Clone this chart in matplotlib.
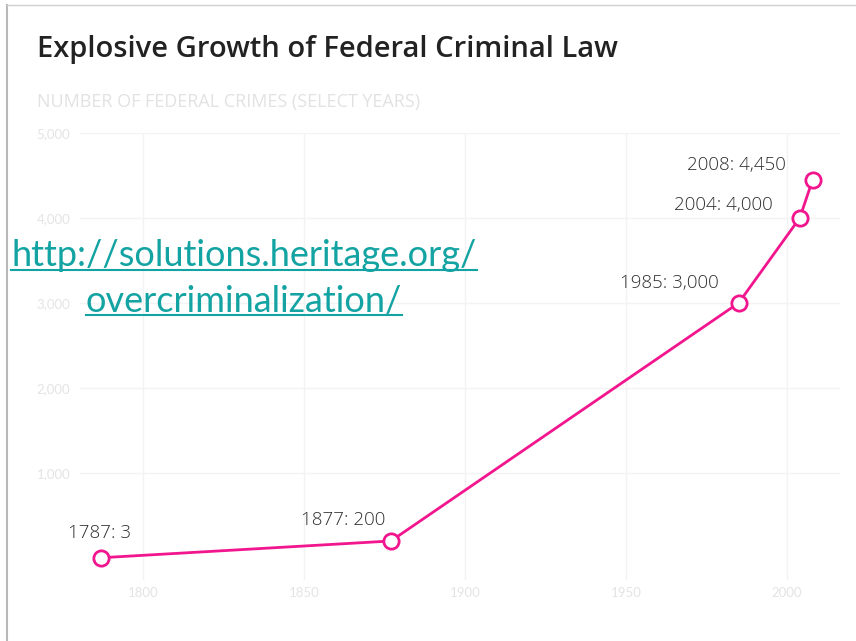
import matplotlib
matplotlib.use("Agg")
import matplotlib.pyplot as plt
from matplotlib.lines import Line2D

# Nombre de crimes fédéraux (années choisies)
annees = [1787, 1877, 1985, 2004, 2008]
crimes = [3, 200, 3000, 4000, 4450]
ticks_x = [1800, 1850, 1900, 1950, 2000]
ticks_y = [1000, 2000, 3000, 4000, 5000]
# décalage des étiquettes (en pixels) par rapport à chaque point
decalages = [(-2, 25), (-48, 21), (-69, 20), (-76, 13), (-76, 15)]

titre = "Explosive Growth of Federal Criminal Law"
sous_titre = "NUMBER OF FEDERAL CRIMES (SELECT YEARS)"
lien = ["http://solutions.heritage.org/", "overcriminalization/"]

W, H = 856, 641
fig = plt.figure(figsize=(W / 100, H / 100), dpi=100)
fig.patch.set_facecolor("white")

# zone du graphe en pixels : x 80..840, y 133..580
ax = fig.add_axes([80 / W, 1 - 580 / H, 760 / W, (580 - 133) / H])
ax.set_xlim(1780.4, 2016.5)
ax.set_ylim(-259, 5000)

rose = "#f2168e"
ax.plot(annees, crimes, color=rose, linewidth=2, marker="o", markersize=11,
        markerfacecolor="white", markeredgecolor=rose, markeredgewidth=2, zorder=3)

for a, c, (dx, dy) in zip(annees, crimes, decalages):
    ax.annotate(f"{a}: {c:,}", (a, c), xytext=(dx * 0.72, dy * 0.72),
                textcoords="offset points", ha="center", va="center",
                fontsize=13.5, color="#2e2e2e", family="Open Sans", fontweight="light")

ax.set_xticks(ticks_x)
ax.set_yticks(ticks_y)
ax.set_yticklabels([f"{v:,}" for v in ticks_y])
ax.tick_params(length=0, colors="#e4e4e4", labelsize=9.5, pad=7)
ax.tick_params(axis="x", pad=5)
for lab in ax.get_xticklabels() + ax.get_yticklabels():
    lab.set_family("Lato")
ax.grid(True, color="#f3f3f3", linewidth=1)
for s in ax.spines.values():
    s.set_visible(False)

fig.text(37 / W, 1 - 50 / H, titre, fontsize=21, fontweight="semibold",
         family="Open Sans", color="#222222", va="center", ha="left")
fig.text(37 / W, 1 - 102 / H, sous_titre, fontsize=13, family="Open Sans",
         color="#e2e2e2", va="center", ha="left")

# bordure de la capture
fig.add_artist(Line2D([7 / W, 7 / W], [0, 1 - 5 / H], color="#b8b8b8", linewidth=1.5))
fig.add_artist(Line2D([7 / W, 1], [1 - 5 / H, 1 - 5 / H], color="#d0d0d0", linewidth=1))

# lien souligné par-dessus le graphe
teal = "#14a3a3"
textes = []
for i, ligne in enumerate(lien):
    t = fig.text(244 / W, 1 - (256 + 45 * i) / H, ligne, fontsize=26, family="Lato",
                 color=teal, ha="center", va="center")
    textes.append(t)
fig.canvas.draw()
rend = fig.canvas.get_renderer()
for t in textes:
    bb = t.get_window_extent(rend)
    y = (bb.y0 + 3) / H
    fig.add_artist(Line2D([bb.x0 / W, bb.x1 / W], [y, y], color=teal, linewidth=1.5))

fig.savefig("out.png", dpi=100)
